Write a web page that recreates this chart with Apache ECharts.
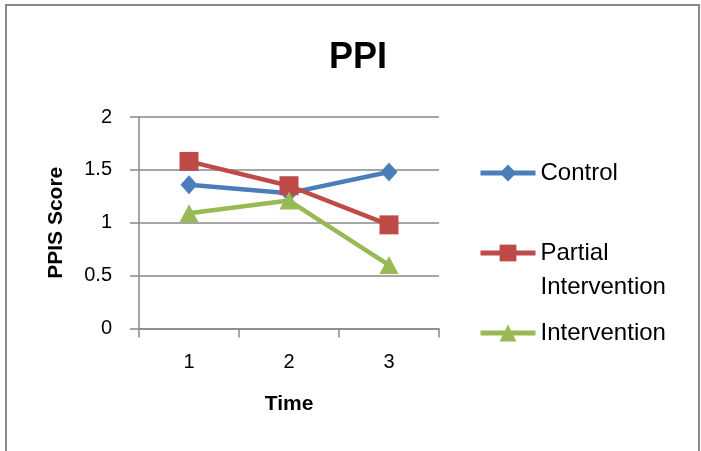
<!DOCTYPE html>
<html>
<head>
<meta charset="utf-8">
<script src="https://cdn.jsdelivr.net/npm/echarts@6/dist/echarts.min.js"></script>
<style>
  html, body { margin: 0; padding: 0; background: #ffffff; }
  #chart { width: 701px; height: 451px; }
</style>
</head>
<body>
<div id="chart"></div>
<script>
const categories = ['1', '2', '3'];
const controlValues = [1.36, 1.28, 1.48];
const partialValues = [1.58, 1.35, 0.98];
const interventionValues = [1.09, 1.21, 0.60];
const yTicks = [0, 0.5, 1, 1.5, 2];

const FONT = '"Liberation Sans", Arial, sans-serif';
const GRAY = '#898989';
const BLUE = '#4A7EBB';
const RED = '#BE4B48';
const GREEN = '#98B954';

const chart = echarts.init(document.getElementById('chart'), null, { renderer: 'canvas' });

function legendFor(name, top) {
  return {
    data: [name],
    orient: 'vertical',
    left: 478,
    top: top,
    padding: 0,
    itemWidth: 55,
    itemHeight: 21,
    lineStyle: { width: 5 },
    formatter: function (n) { return n === 'Partial Intervention' ? '\nPartial\nIntervention' : n; },
    textStyle: {
      fontFamily: FONT, fontSize: 24, color: '#000', lineHeight: 34
    }
  };
}

chart.setOption({
  backgroundColor: '#ffffff',
  animation: false,
  title: {
    text: 'PPI',
    left: 353,
    textAlign: 'center',
    top: 34,
    textStyle: { fontFamily: FONT, fontSize: 36, fontWeight: 'bold', color: '#000', lineHeight: 38 }
  },
  graphic: [{
    type: 'rect',
    shape: { x: 6, y: 5, width: 693, height: 470 },
    style: { fill: 'none', stroke: GRAY, lineWidth: 2 },
    silent: true, z: -10
  }],
  legend: [
    legendFor('Control', 156),
    legendFor('Partial Intervention', 202),
    legendFor('Intervention', 316)
  ],
  grid: { left: 139, right: 262, top: 117, bottom: 122.5, containLabel: false },
  xAxis: {
    type: 'category',
    data: categories,
    boundaryGap: true,
    name: 'Time',
    nameLocation: 'middle',
    nameGap: 65,
    nameTextStyle: { fontFamily: FONT, fontSize: 21, fontWeight: 'bold', color: '#000' },
    axisLine: { show: true, lineStyle: { color: GRAY, width: 1.5 } },
    axisTick: { show: true, alignWithLabel: false, length: 9, inside: false, lineStyle: { color: GRAY, width: 1.5 } },
    axisLabel: { fontFamily: FONT, fontSize: 20, color: '#000', margin: 24 },
    splitLine: { show: false }
  },
  yAxis: {
    type: 'value',
    min: 0, max: 2, interval: 0.5,
    name: 'PPIS Score',
    nameLocation: 'middle',
    nameGap: 72,
    nameRotate: 90,
    nameTextStyle: { fontFamily: FONT, fontSize: 21, fontWeight: 'bold', color: '#000' },
    axisLine: { show: true, lineStyle: { color: GRAY, width: 1.5 } },
    axisTick: { show: true, length: 9, lineStyle: { color: GRAY, width: 1.5 } },
    axisLabel: {
      fontFamily: FONT, fontSize: 20, color: '#000', margin: 27,
      formatter: function (v) { return yTicks.indexOf(v) >= 0 ? String(v) : ''; }
    },
    splitLine: { show: true, lineStyle: { color: GRAY, width: 1.5 } }
  },
  series: [
    {
      name: 'Control', type: 'line', data: controlValues,
      symbol: 'diamond', symbolSize: [17, 19],
      lineStyle: { color: BLUE, width: 4.5 },
      itemStyle: { color: BLUE }
    },
    {
      name: 'Partial Intervention', type: 'line', data: partialValues,
      symbol: 'rect', symbolSize: 19,
      lineStyle: { color: RED, width: 4.5 },
      itemStyle: { color: RED }
    },
    {
      name: 'Intervention', type: 'line', data: interventionValues,
      symbol: 'triangle', symbolSize: [19, 18],
      lineStyle: { color: GREEN, width: 4.5 },
      itemStyle: { color: GREEN }
    }
  ]
});
</script>
</body>
</html>
